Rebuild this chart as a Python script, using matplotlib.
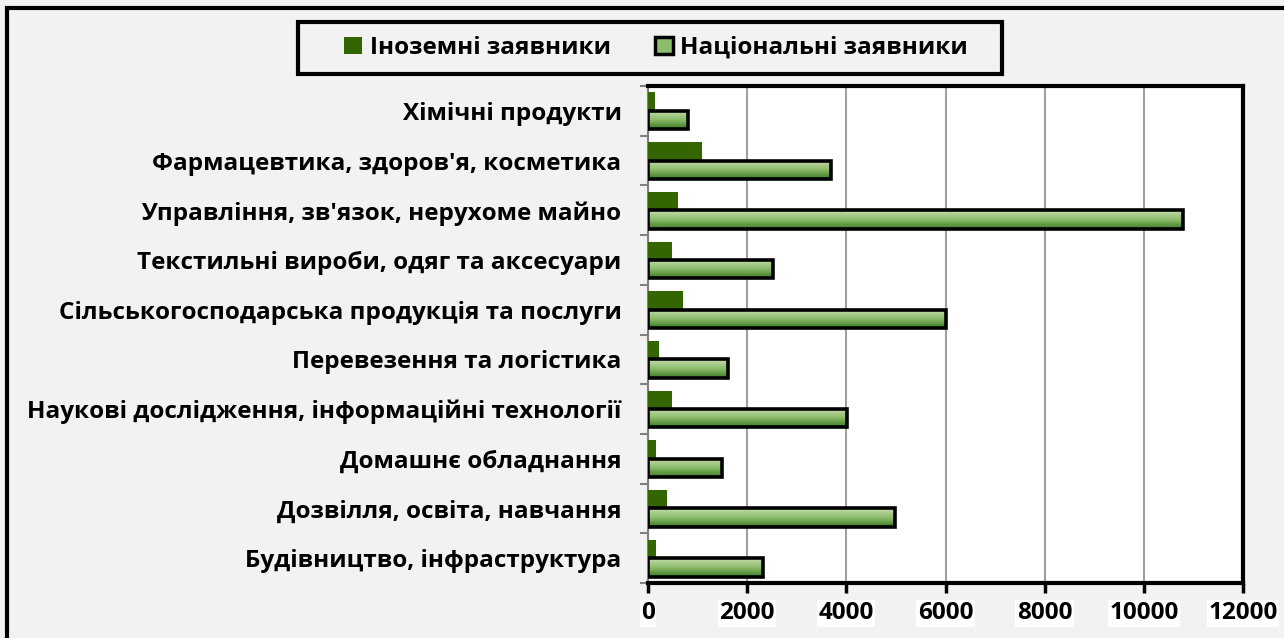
import numpy as np
import matplotlib
matplotlib.use("Agg")
import matplotlib.pyplot as plt
from matplotlib.patches import Patch, Rectangle
from matplotlib.colors import LinearSegmentedColormap

plt.rcParams['font.family'] = ['Open Sans', 'DejaVu Sans']
plt.rcParams['font.weight'] = 'bold'

# categories listed top to bottom as in the chart
categories = ["Хімічні продукти",
              "Фармацевтика, здоров'я, косметика",
              "Управління, зв'язок, нерухоме майно",
              "Текстильні вироби, одяг та аксесуари",
              "Сільськогосподарська продукція та послуги",
              "Перевезення та логістика",
              "Наукові дослідження, інформаційні технології",
              "Домашнє обладнання",
              "Дозвілля, освіта, навчання",
              "Будівництво, інфраструктура"]
foreign = [140, 1090, 600, 480, 700, 230, 490, 170, 380, 160]
national = [800, 3700, 10780, 2520, 6000, 1620, 4010, 1490, 4980, 2320]
series_names = ["Іноземні заявники", "Національні заявники"]
xticks = [0, 2000, 4000, 6000, 8000, 10000, 12000]

bg = '#f2f2f2'
dark_green = '#336600'
grad = LinearSegmentedColormap.from_list('g', ['#3b7a22', '#8cbd6c', '#c6dcae'])

fig = plt.figure(figsize=(12.84, 6.38), dpi=100, facecolor=bg)
ax = fig.add_axes([648/1284, 1-583/638, (1243-648)/1284, (583-86)/638])
ax.set_facecolor('white')

n = len(categories)
y = np.arange(n)[::-1].astype(float)
h = 0.37

ax.barh(y + h/2, foreign, height=h, color=dark_green, zorder=3)
nat_bars = ax.barh(y - h/2, national, height=h, facecolor='none',
                   edgecolor='black', linewidth=2.6, zorder=4)

# vertical gradient inside national bars
g = np.linspace(0, 1, 64).reshape(-1, 1)
for bar in nat_bars:
    x0, y0 = bar.get_x(), bar.get_y()
    im = ax.imshow(g, cmap=grad, origin='lower', aspect='auto', zorder=3,
                   extent=[x0, x0 + bar.get_width(), y0, y0 + bar.get_height()])
    im.set_clip_path(bar)

ax.set_xlim(0, 12000)
ax.set_ylim(-0.5, n - 0.5)
ax.set_xticks(xticks)
ax.set_xticklabels([str(v) for v in xticks], fontsize=17.5, fontweight='bold')
for lab in ax.get_xticklabels():
    lab.set_bbox(dict(facecolor='white', edgecolor='none', pad=1))
ax.tick_params(axis='x', length=7, width=2.5, color='black', pad=6)

ax.set_yticks(y)
ax.set_yticklabels(categories, fontsize=17.5, fontweight='bold')
ax.set_yticks(np.arange(n + 1) - 0.5, minor=True)
ax.tick_params(axis='y', which='major', length=0, pad=19)
ax.tick_params(axis='y', which='minor', length=6, width=1.5, color='#808080')

ax.grid(axis='x', color='#a0a0a0', linewidth=1.5, zorder=1)
ax.set_axisbelow(True)
for s in ['top', 'right', 'bottom']:
    ax.spines[s].set_linewidth(3)
    ax.spines[s].set_color('black')
ax.spines['left'].set_color('#808080')
ax.spines['left'].set_linewidth(1.5)

# legend box drawn separately so its width matches the original
fig.patches.append(Rectangle((298/1284, 1-74/638), 704/1284, 52/638, transform=fig.transFigure,
                             facecolor=bg, edgecolor='black', linewidth=3, zorder=1))
handles = [Patch(facecolor=dark_green, edgecolor='none'),
           Patch(facecolor='#8cbd6c', edgecolor='black', linewidth=2.5)]
leg = fig.legend(handles, series_names, loc='center', bbox_to_anchor=(656/1284, 1-48/638),
                 ncol=2, frameon=False,
                 handlelength=0.75, handleheight=0.75, handletextpad=0.3,
                 columnspacing=1.8, borderpad=0.3, borderaxespad=0,
                 prop={'weight': 'bold', 'size': 17.5})
leg.set_zorder(5)

# outer chart border
fig.patches.append(Rectangle((7/1284, -0.1), 1.2, 1 - 8/638 + 0.1, transform=fig.transFigure,
                             fill=False, edgecolor='black', linewidth=3))

fig.savefig('out.png', dpi=100, facecolor=bg)
